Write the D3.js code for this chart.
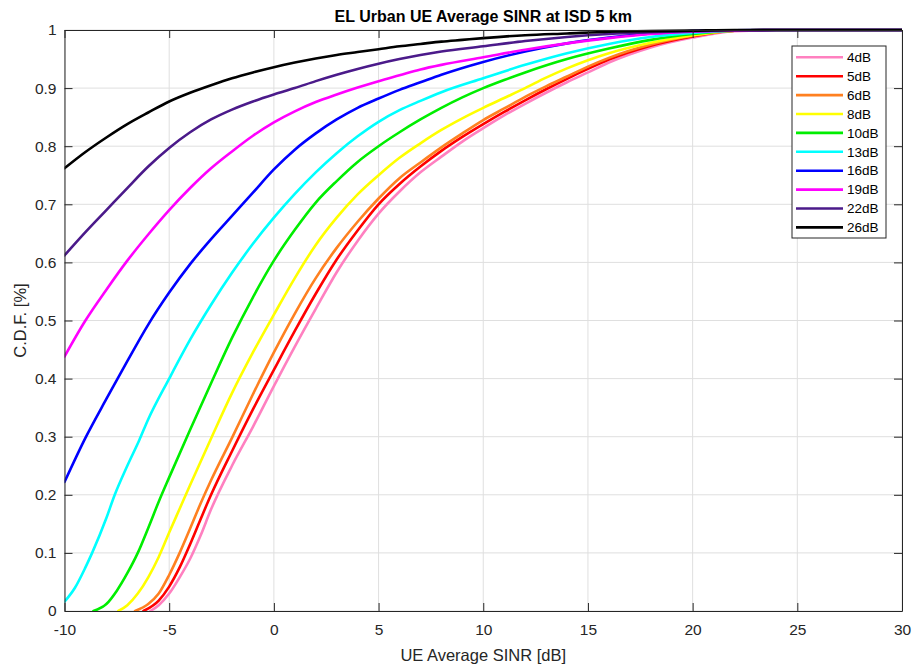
<!DOCTYPE html>
<html>
<head>
<meta charset="utf-8">
<script src="https://cdn.jsdelivr.net/npm/d3@7/dist/d3.min.js"></script>
<style>
  html, body { margin: 0; padding: 0; background: #fff; }
  svg { display: block; font-family: "Liberation Sans", Arial, sans-serif; }
</style>
</head>
<body>
<svg id="chart" width="913" height="670"></svg>
<script>
// ---- Data ----
const titleText = "EL Urban UE Average SINR at ISD 5 km";
const xLabelText = "UE Average SINR [dB]";
const yLabelText = "C.D.F. [%]";
const xTicks = [-10, -5, 0, 5, 10, 15, 20, 25, 30];
const xTickLabels = ["-10", "-5", "0", "5", "10", "15", "20", "25", "30"];
const yTicks = [0, 0.1, 0.2, 0.3, 0.4, 0.5, 0.6, 0.7, 0.8, 0.9, 1];
const yTickLabels = ["0", "0.1", "0.2", "0.3", "0.4", "0.5", "0.6", "0.7", "0.8", "0.9", "1"];
const seriesNames = ["4dB", "5dB", "6dB", "8dB", "10dB", "13dB", "16dB", "19dB", "22dB", "26dB"];
const seriesColors = ["#ff80c0", "#ff0000", "#ff8020", "#ffff00", "#00ee00", "#00ffff", "#0000ff", "#ff00ff", "#4b1a8a", "#000000"];

const cdf4 = [[-5.9,0],[-5.5,0.01],[-5,0.03],[-4.5,0.058],[-4,0.09],[-3.5,0.13],[-3,0.175],[-2,0.25],[-1,0.317],[0,0.387],[1,0.455],[2,0.52],[3,0.583],[4,0.637],[5,0.684],[6,0.722],[7,0.755],[8,0.782],[9,0.808],[10,0.831],[11,0.853],[12,0.873],[13,0.892],[14,0.91],[15,0.927],[16,0.944],[18,0.97],[20,0.987],[22,0.998],[24,1],[30,1]];
const cdf5 = [[-6.23,0],[-5.5,0.018],[-5,0.042],[-4.5,0.075],[-4,0.115],[-3.5,0.158],[-3,0.2],[-2,0.275],[-1,0.347],[0,0.415],[1,0.482],[2,0.546],[3,0.605],[4,0.655],[5,0.7],[6,0.735],[7,0.765],[8,0.792],[9,0.816],[10,0.838],[11,0.859],[12,0.879],[13,0.898],[14,0.916],[15,0.933],[16,0.949],[18,0.973],[20,0.989],[22,0.999],[24,1],[30,1]];
const cdf6 = [[-6.63,0],[-6,0.012],[-5.5,0.03],[-5,0.062],[-4.5,0.1],[-4,0.142],[-3.5,0.185],[-3,0.225],[-2,0.298],[-1,0.373],[0,0.445],[1,0.512],[2,0.573],[3,0.625],[4,0.67],[5,0.71],[6,0.745],[7,0.772],[8,0.798],[9,0.822],[10,0.845],[11,0.865],[12,0.885],[13,0.903],[14,0.92],[15,0.937],[16,0.952],[18,0.975],[20,0.99],[22,0.999],[24,1],[30,1]];
const cdf8 = [[-7.43,0],[-7,0.01],[-6.5,0.03],[-6,0.058],[-5.5,0.093],[-5,0.135],[-4.5,0.176],[-4,0.217],[-3,0.297],[-2,0.375],[-1,0.445],[0,0.51],[1,0.573],[2,0.63],[3,0.677],[4,0.717],[5,0.75],[6,0.78],[7,0.805],[8,0.828],[9,0.848],[10,0.866],[11,0.883],[12,0.9],[13,0.918],[14,0.934],[15,0.948],[16,0.96],[18,0.978],[20,0.991],[22,0.999],[24,1],[30,1]];
const cdf10 = [[-8.62,0],[-8,0.012],[-7.5,0.035],[-7,0.065],[-6.5,0.1],[-6,0.143],[-5.5,0.188],[-5,0.23],[-4,0.312],[-3,0.392],[-2,0.47],[-1,0.54],[0,0.603],[1,0.656],[2,0.703],[3,0.74],[4,0.773],[5,0.8],[6,0.824],[7,0.846],[8,0.866],[9,0.884],[10,0.9],[11,0.914],[12,0.927],[14,0.95],[16,0.968],[18,0.983],[20,0.993],[22,0.999],[24,1],[30,1]];
const cdf13 = [[-10,0.016],[-9.5,0.04],[-9,0.075],[-8.68,0.1],[-8,0.16],[-7.6,0.2],[-7,0.25],[-6.43,0.294],[-6,0.33],[-5,0.4],[-4,0.467],[-3,0.527],[-2,0.582],[-1,0.632],[0,0.677],[1,0.718],[2,0.755],[3,0.788],[4,0.817],[5,0.842],[6,0.862],[7,0.878],[8,0.893],[10,0.917],[12,0.94],[14,0.96],[16,0.976],[18,0.988],[20,0.995],[22,0.999],[24,1],[30,1]];
const cdf16 = [[-10,0.222],[-9,0.298],[-8,0.365],[-7,0.43],[-6,0.493],[-5,0.548],[-4,0.597],[-3,0.64],[-2,0.68],[-1,0.72],[0,0.76],[1,0.794],[2,0.822],[3,0.846],[4,0.866],[5,0.882],[6,0.897],[7,0.91],[8,0.923],[10,0.945],[12,0.963],[14,0.977],[16,0.987],[18,0.994],[20,0.998],[22,0.9995],[24,1],[30,1]];
const cdf19 = [[-10,0.438],[-9,0.5],[-8,0.553],[-7,0.603],[-6,0.648],[-5,0.69],[-4,0.728],[-3,0.762],[-2,0.791],[-1,0.818],[0,0.841],[1,0.86],[2,0.876],[3,0.889],[4,0.901],[5,0.912],[6,0.922],[7,0.932],[8,0.94],[10,0.953],[12,0.966],[14,0.977],[16,0.986],[18,0.993],[20,0.997],[22,0.999],[24,1],[30,1]];
const cdf22 = [[-10,0.612],[-9,0.652],[-8,0.69],[-7,0.728],[-6,0.765],[-5,0.797],[-4,0.824],[-3,0.846],[-2,0.863],[-1,0.877],[0,0.889],[1,0.9],[2,0.912],[3,0.923],[4,0.933],[5,0.942],[6,0.95],[7,0.957],[8,0.963],[10,0.972],[12,0.981],[14,0.988],[16,0.993],[18,0.996],[20,0.998],[22,0.9995],[24,1],[30,1]];
const cdf26 = [[-10,0.762],[-9,0.79],[-8,0.815],[-7,0.838],[-6,0.858],[-5,0.877],[-4,0.892],[-3,0.905],[-2,0.917],[-1,0.927],[0,0.936],[1,0.944],[2,0.951],[3,0.957],[4,0.962],[5,0.967],[6,0.972],[7,0.976],[8,0.98],[9,0.983],[10,0.986],[12,0.991],[14,0.994],[16,0.997],[18,0.998],[20,0.999],[22,1],[30,1]];
const seriesData = [cdf4, cdf5, cdf6, cdf8, cdf10, cdf13, cdf16, cdf19, cdf22, cdf26];

// ---- Layout ----
const svg = d3.select("#chart");
const margin = { left: 64.5, right: 902, top: 30, bottom: 611 };
const x = d3.scaleLinear().domain([-10, 30]).range([margin.left, margin.right]);
const y = d3.scaleLinear().domain([0, 1]).range([margin.bottom, margin.top]);
const axisColor = "#262626";
const tickLen = 8;

// Grid
const grid = svg.append("g");
grid.selectAll("line.gx").data(xTicks).enter().append("line")
  .attr("x1", d => x(d)).attr("x2", d => x(d))
  .attr("y1", y(0)).attr("y2", y(1))
  .attr("stroke", "#dfdfdf").attr("stroke-width", 1);
grid.selectAll("line.gy").data(yTicks).enter().append("line")
  .attr("x1", x(-10)).attr("x2", x(30))
  .attr("y1", d => y(d)).attr("y2", d => y(d))
  .attr("stroke", "#dfdfdf").attr("stroke-width", 1);

// Lines
svg.append("clipPath").attr("id", "clip").append("rect")
  .attr("x", margin.left).attr("y", margin.top - 2)
  .attr("width", margin.right - margin.left).attr("height", margin.bottom - margin.top + 2);
const line = d3.line().x(d => x(d[0])).y(d => y(d[1])).curve(d3.curveMonotoneX);
const linesG = svg.append("g").attr("clip-path", "url(#clip)");
seriesData.forEach((s, i) => {
  linesG.append("path").datum(s)
    .attr("d", line)
    .attr("fill", "none")
    .attr("stroke", seriesColors[i])
    .attr("stroke-width", 2.6)
    .attr("stroke-linejoin", "round")
    .attr("stroke-linecap", "round");
});

// Axes (ticks inward, box)
const xAxisB = d3.axisBottom(x).tickValues(xTicks).tickSize(-tickLen).tickSizeOuter(0).tickPadding(13).tickFormat((d, i) => xTickLabels[i]);
const xAxisT = d3.axisTop(x).tickValues(xTicks).tickSize(-tickLen).tickSizeOuter(0).tickFormat("");
const yAxisL = d3.axisLeft(y).tickValues(yTicks).tickSize(-tickLen).tickSizeOuter(0).tickPadding(8).tickFormat((d, i) => yTickLabels[i]);
const yAxisR = d3.axisRight(y).tickValues(yTicks).tickSize(-tickLen).tickSizeOuter(0).tickFormat("");

function styleAxis(g) {
  g.select(".domain").attr("stroke", axisColor).attr("stroke-width", 1);
  g.selectAll(".tick line").attr("stroke", axisColor).attr("stroke-width", 1);
  g.selectAll(".tick text").attr("fill", axisColor).style("font-size", "15.5px")
    .style("font-family", "'Liberation Sans', Arial, sans-serif");
}
svg.append("g").attr("transform", `translate(0,${y(0)})`).call(xAxisB).call(styleAxis);
svg.append("g").attr("transform", `translate(0,${y(1)})`).call(xAxisT).call(styleAxis);
svg.append("g").attr("transform", `translate(${x(-10)},0)`).call(yAxisL).call(styleAxis);
svg.append("g").attr("transform", `translate(${x(30)},0)`).call(yAxisR).call(styleAxis);

// Title & labels
svg.append("text").attr("x", (margin.left + margin.right) / 2).attr("y", 22)
  .attr("text-anchor", "middle").attr("font-weight", "bold").attr("font-size", "16px")
  .attr("fill", "#000").text(titleText);
svg.append("text").attr("x", (margin.left + margin.right) / 2).attr("y", 661)
  .attr("text-anchor", "middle").attr("font-size", "16.5px").attr("fill", axisColor).text(xLabelText);
svg.append("text").attr("transform", `translate(26,${(margin.top + margin.bottom) / 2}) rotate(-90)`)
  .attr("text-anchor", "middle").attr("font-size", "16.5px").attr("fill", axisColor).text(yLabelText);

// Legend
const lg = svg.append("g");
lg.append("rect").attr("x", 792).attr("y", 46).attr("width", 94).attr("height", 192)
  .attr("fill", "#fff").attr("stroke", axisColor).attr("stroke-width", 1);
seriesNames.forEach((n, i) => {
  const yy = 57.3 + i * 18.9;
  lg.append("line").attr("x1", 796).attr("x2", 843).attr("y1", yy).attr("y2", yy)
    .attr("stroke", seriesColors[i]).attr("stroke-width", 2.6);
  lg.append("text").attr("x", 847).attr("y", yy).attr("dy", "0.35em")
    .attr("font-size", "13.5px").attr("fill", "#000").text(n);
});
</script>
</body>
</html>
